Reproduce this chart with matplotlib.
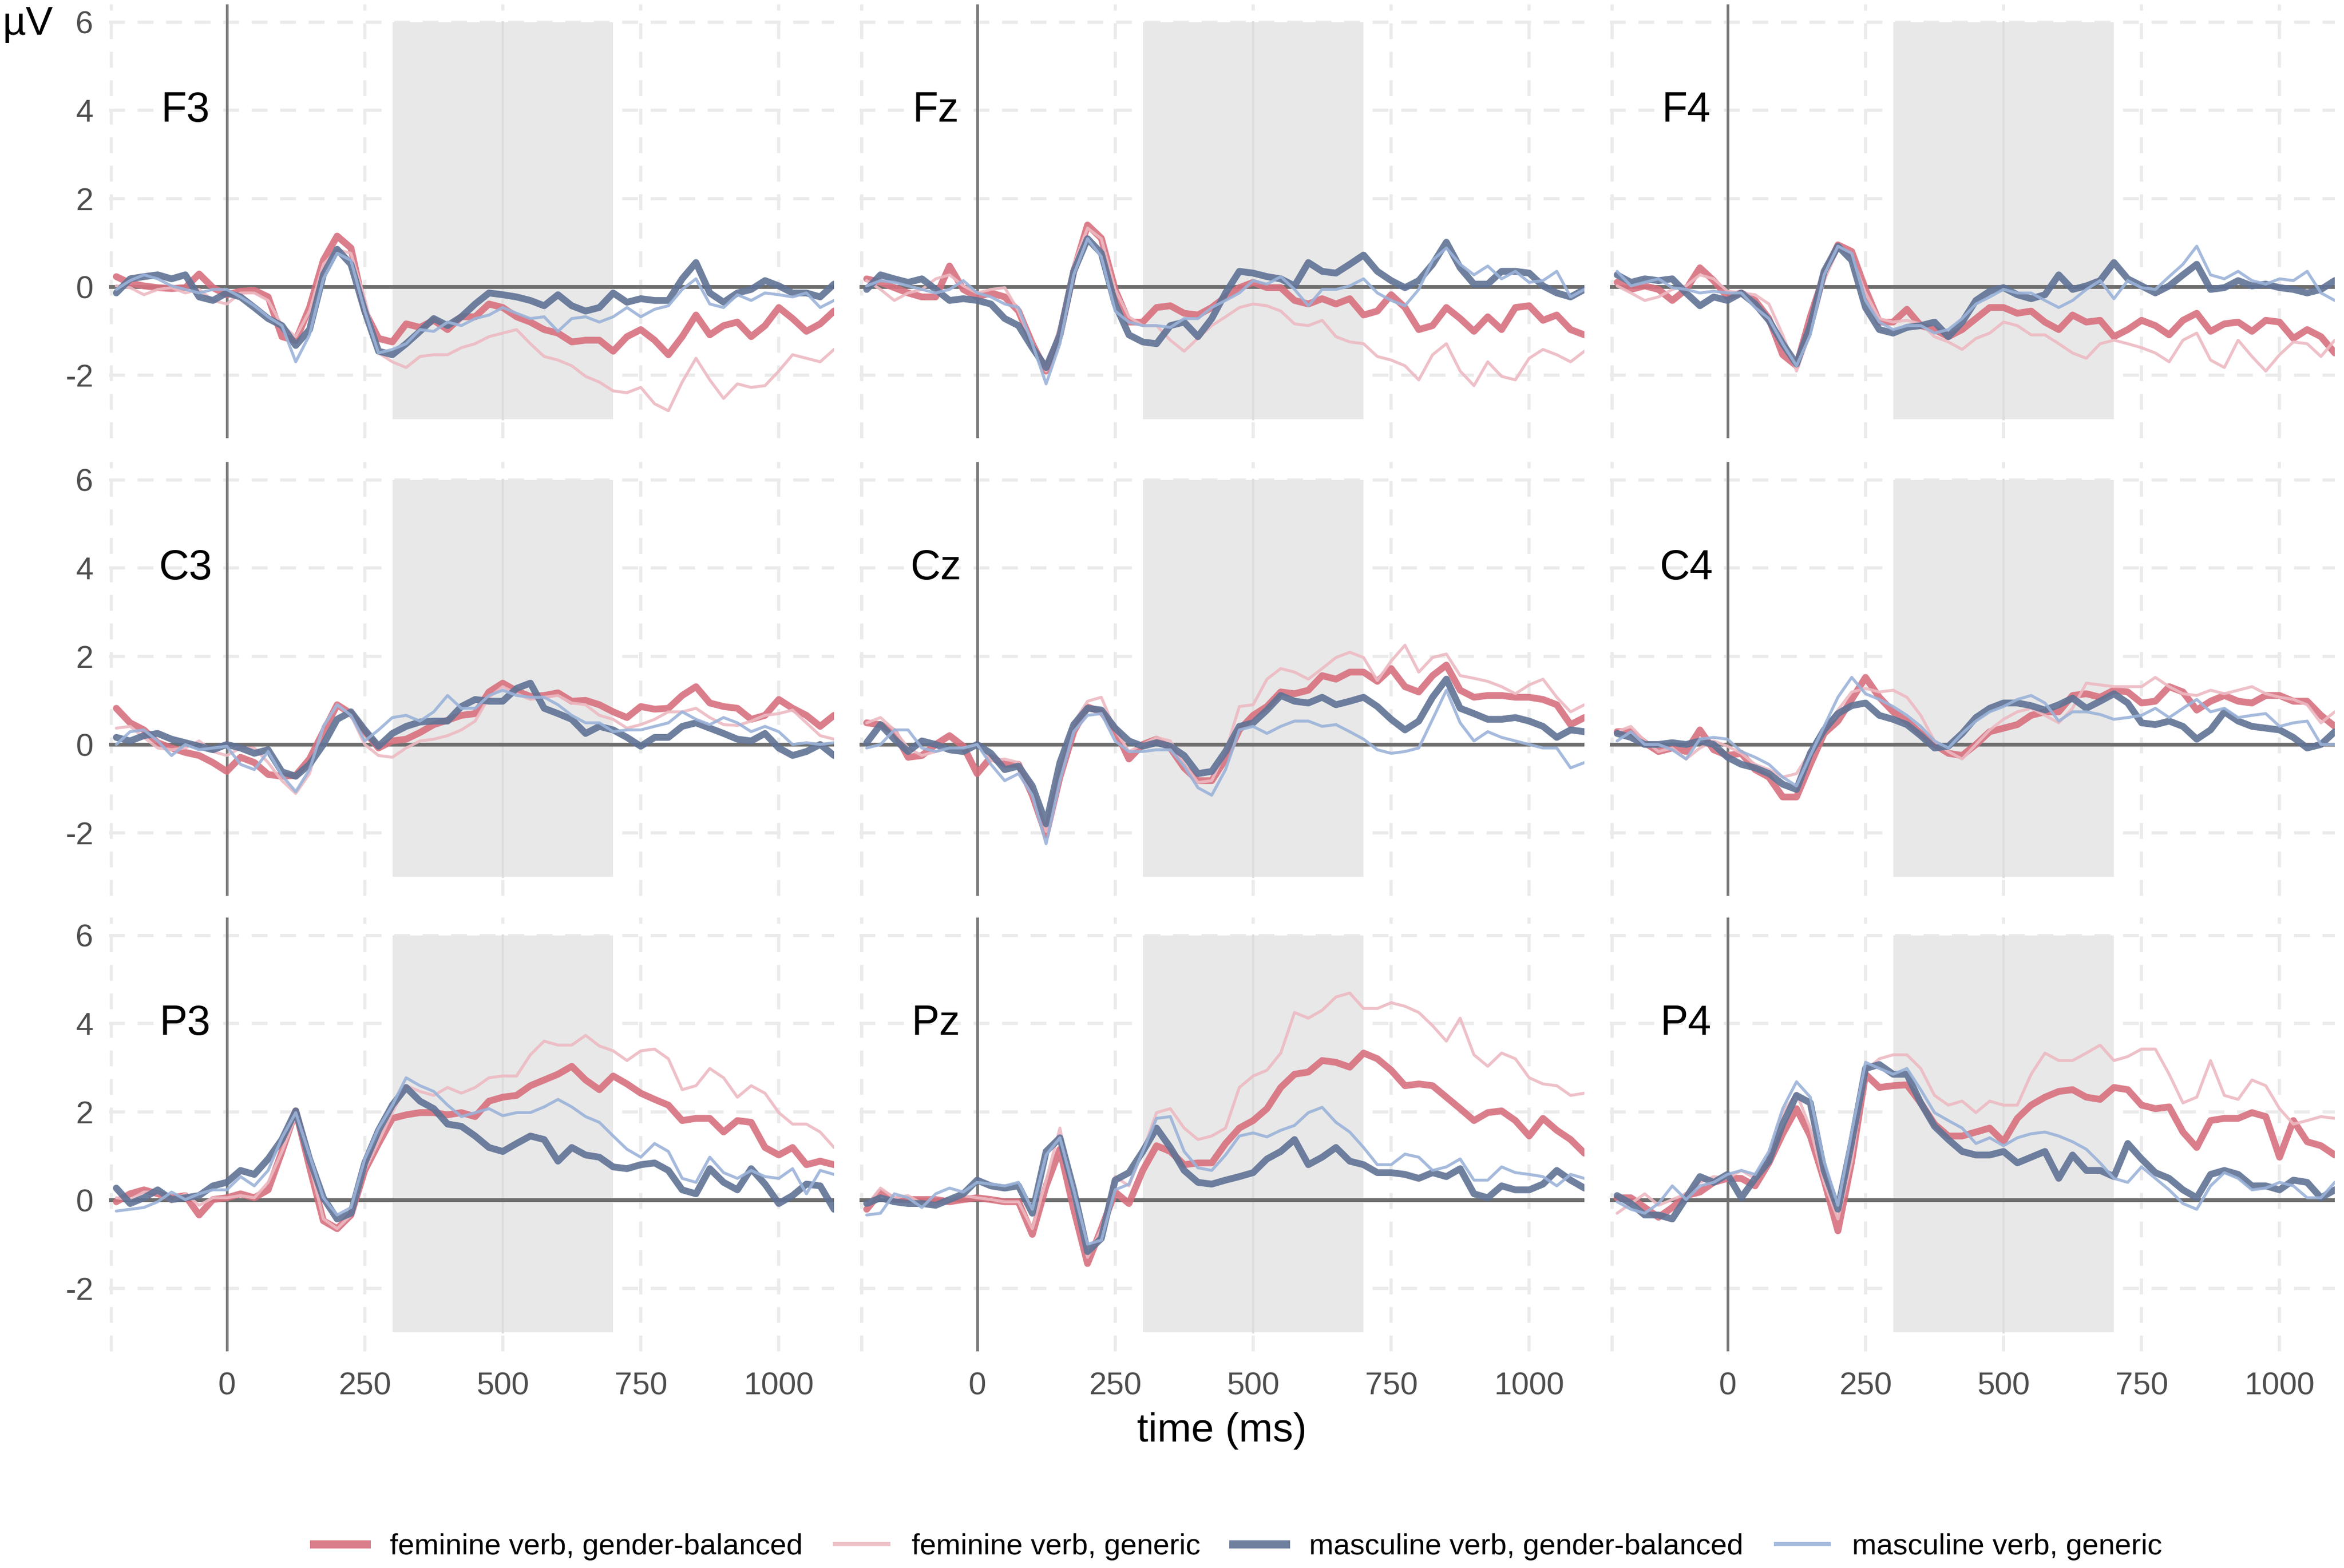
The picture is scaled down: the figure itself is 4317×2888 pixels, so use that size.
import numpy as np
import matplotlib
matplotlib.use('Agg')
import matplotlib.pyplot as plt
from matplotlib.lines import Line2D
from matplotlib.patches import Rectangle

plt.rcParams['font.family'] = ['Liberation Sans', 'DejaVu Sans']
plt.rcParams['axes.unicode_minus'] = False

# time axis (ms), one value every 25 ms
times = np.arange(-200, 1101, 25)

# ---- values (µV) ----
f3_fb = [0.23, 0.08, 0.02, -0.02, -0.04, -0.02, 0.29, -0.02, -0.18, -0.10, -0.08, -0.23, -1.13, -1.22, -0.47, 0.60, 1.15, 0.88, -0.55, -1.17, -1.25, -0.84, -0.92, -0.76, -0.97, -0.68, -0.68, -0.39, -0.47, -0.68, -0.80, -0.97, -1.05, -1.25, -1.21, -1.21, -1.46, -1.13, -0.97, -1.21, -1.54, -1.13, -0.64, -1.09, -0.88, -0.80, -1.13, -0.88, -0.47, -0.72, -1.01, -0.84, -0.55]
f3_fg = [0.02, -0.02, -0.18, -0.06, -0.02, -0.14, -0.06, -0.31, -0.39, -0.14, -0.14, -0.31, -0.88, -1.13, -0.55, 0.51, 0.84, 0.76, -0.27, -1.50, -1.70, -1.83, -1.58, -1.54, -1.54, -1.38, -1.29, -1.13, -1.05, -0.97, -1.29, -1.58, -1.66, -1.79, -2.03, -2.16, -2.36, -2.40, -2.28, -2.65, -2.81, -2.16, -1.62, -2.11, -2.53, -2.20, -2.28, -2.24, -1.91, -1.54, -1.62, -1.70, -1.42]
f3_mb = [-0.14, 0.18, 0.23, 0.27, 0.18, 0.27, -0.23, -0.31, -0.14, -0.23, -0.47, -0.72, -0.88, -1.33, -0.97, 0.27, 0.85, 0.51, -0.55, -1.46, -1.54, -1.29, -1.01, -0.72, -0.88, -0.68, -0.39, -0.14, -0.18, -0.23, -0.31, -0.43, -0.18, -0.43, -0.55, -0.47, -0.14, -0.35, -0.27, -0.31, -0.31, 0.18, 0.55, -0.14, -0.35, -0.14, -0.06, 0.14, 0.02, -0.14, -0.14, -0.23, 0.06]
f3_mg = [-0.06, 0.14, 0.27, 0.18, 0.02, -0.06, -0.14, -0.06, -0.06, -0.23, -0.43, -0.68, -0.88, -1.70, -1.09, 0.18, 0.76, 0.60, -0.55, -1.50, -1.42, -1.29, -0.97, -1.01, -0.80, -0.88, -0.72, -0.64, -0.47, -0.60, -0.72, -0.68, -1.01, -0.72, -0.68, -0.80, -0.68, -0.47, -0.68, -0.51, -0.43, -0.06, 0.18, -0.39, -0.47, -0.18, -0.31, -0.14, -0.18, -0.23, -0.14, -0.47, -0.31]

fz_fb = [0.18, 0.10, -0.02, -0.14, -0.23, -0.23, 0.47, -0.06, -0.23, -0.14, -0.23, -0.55, -1.29, -1.91, -1.09, 0.35, 1.40, 1.10, -0.06, -0.80, -0.80, -0.47, -0.43, -0.60, -0.64, -0.47, -0.23, -0.02, 0.10, -0.02, -0.02, -0.31, -0.39, -0.27, -0.39, -0.27, -0.64, -0.55, -0.18, -0.47, -0.97, -0.88, -0.47, -0.72, -1.01, -0.68, -0.97, -0.47, -0.43, -0.76, -0.64, -0.97, -1.09]
fz_fg = [0.14, -0.06, -0.31, -0.14, -0.06, 0.18, 0.27, 0.02, -0.14, -0.06, -0.02, -0.55, -1.29, -1.91, -0.88, 0.51, 1.33, 1.09, -0.06, -0.68, -0.88, -0.88, -1.21, -1.46, -1.17, -0.88, -0.68, -0.47, -0.39, -0.43, -0.55, -0.84, -0.88, -0.76, -1.13, -1.25, -1.29, -1.58, -1.66, -1.79, -2.11, -1.54, -1.29, -1.91, -2.24, -1.70, -2.03, -2.11, -1.62, -1.42, -1.54, -1.70, -1.46]
fz_mb = [-0.06, 0.27, 0.18, 0.10, 0.18, -0.06, -0.31, -0.27, -0.31, -0.39, -0.72, -0.88, -1.38, -1.83, -1.09, 0.35, 1.09, 0.76, -0.39, -1.09, -1.25, -1.29, -0.88, -0.80, -1.13, -0.72, -0.14, 0.35, 0.31, 0.23, 0.18, 0.02, 0.55, 0.35, 0.31, 0.51, 0.72, 0.35, 0.14, -0.02, 0.14, 0.51, 1.01, 0.43, 0.06, 0.06, 0.35, 0.35, 0.31, 0.02, -0.14, -0.23, -0.06]
fz_mg = [0.02, 0.14, 0.10, 0.02, -0.06, -0.14, -0.06, 0.14, -0.14, -0.23, -0.39, -0.47, -1.29, -2.20, -1.29, 0.27, 1.09, 0.68, -0.55, -0.80, -0.88, -0.88, -0.92, -0.72, -0.72, -0.47, -0.31, -0.14, 0.14, 0.06, 0.23, -0.06, -0.43, -0.06, -0.06, 0.02, 0.18, -0.14, -0.31, -0.43, -0.06, 0.60, 0.88, 0.51, 0.27, 0.47, 0.18, 0.35, 0.10, 0.14, 0.35, -0.23, -0.06]

f4_fb = [0.10, -0.06, 0.02, -0.06, -0.31, -0.06, 0.43, 0.14, -0.23, -0.14, -0.31, -0.72, -1.54, -1.79, -0.68, 0.27, 0.95, 0.80, -0.06, -0.80, -0.80, -0.51, -0.88, -0.97, -1.13, -0.97, -0.72, -0.47, -0.47, -0.60, -0.55, -0.80, -0.97, -0.64, -0.80, -0.76, -1.13, -0.97, -0.76, -0.88, -1.09, -0.76, -0.60, -1.01, -0.84, -0.80, -1.01, -0.76, -0.80, -1.17, -0.97, -1.13, -1.50]
f4_fg = [0.02, -0.14, -0.31, -0.23, -0.06, 0.02, 0.27, 0.18, -0.10, -0.14, -0.18, -0.39, -1.09, -1.91, -1.05, 0.14, 0.88, 0.68, -0.14, -0.72, -0.80, -0.76, -0.84, -1.13, -1.25, -1.42, -1.17, -1.05, -0.80, -0.88, -1.09, -1.09, -1.29, -1.50, -1.62, -1.29, -1.21, -1.29, -1.38, -1.50, -1.70, -1.21, -1.05, -1.66, -1.83, -1.21, -1.58, -1.91, -1.54, -1.25, -1.29, -1.58, -1.21]
f4_mb = [0.27, 0.10, 0.18, 0.14, 0.18, -0.14, -0.43, -0.23, -0.31, -0.14, -0.39, -0.76, -1.29, -1.75, -0.88, 0.35, 0.92, 0.60, -0.47, -0.97, -1.05, -0.92, -0.88, -0.80, -1.13, -0.80, -0.31, -0.10, -0.02, -0.18, -0.27, -0.18, 0.27, -0.06, 0.02, 0.14, 0.55, 0.18, 0.02, -0.14, 0.02, 0.27, 0.51, -0.06, -0.02, 0.14, 0.02, 0.06, -0.02, -0.06, -0.14, -0.06, 0.14]
f4_mg = [0.35, 0.02, 0.10, 0.18, -0.02, -0.06, -0.14, -0.10, -0.14, -0.14, -0.47, -0.72, -1.29, -1.79, -1.09, 0.27, 0.92, 0.76, -0.31, -0.80, -0.97, -0.88, -0.88, -1.05, -0.97, -0.72, -0.39, -0.23, -0.06, -0.14, -0.14, -0.31, -0.47, -0.31, -0.06, 0.14, -0.27, 0.14, -0.02, -0.06, 0.23, 0.51, 0.92, 0.27, 0.18, 0.35, 0.14, 0.06, 0.18, 0.14, 0.35, -0.14, -0.31]

c3_fb = [0.82, 0.49, 0.33, 0.04, -0.08, -0.18, -0.25, -0.41, -0.61, -0.29, -0.41, -0.68, -0.72, -0.70, -0.33, 0.29, 0.90, 0.70, 0.29, -0.08, 0.08, 0.12, 0.27, 0.45, 0.55, 0.66, 0.70, 1.19, 1.39, 1.21, 1.09, 1.11, 1.17, 0.98, 1.00, 0.90, 0.74, 0.61, 0.86, 0.80, 0.82, 1.11, 1.31, 0.94, 0.86, 0.82, 0.57, 0.66, 1.02, 0.82, 0.66, 0.41, 0.66]
c3_fg = [0.37, 0.41, 0.16, -0.08, -0.12, -0.08, 0.08, -0.16, -0.25, -0.08, -0.08, -0.41, -0.82, -1.11, -0.66, 0.41, 0.90, 0.66, 0.00, -0.25, -0.29, -0.08, 0.08, 0.12, 0.20, 0.33, 0.53, 1.07, 1.31, 1.15, 1.02, 1.07, 1.11, 0.94, 0.90, 0.66, 0.57, 0.37, 0.45, 0.57, 0.74, 0.74, 0.82, 0.61, 0.45, 0.43, 0.53, 0.66, 0.70, 0.78, 0.49, 0.20, 0.12]
c3_mb = [0.16, 0.08, 0.20, 0.25, 0.12, 0.04, -0.04, -0.12, 0.00, -0.08, -0.20, -0.12, -0.62, -0.72, -0.45, 0.00, 0.57, 0.74, 0.33, -0.04, 0.25, 0.41, 0.51, 0.53, 0.53, 0.86, 1.02, 0.98, 0.98, 1.27, 1.39, 0.82, 0.70, 0.57, 0.25, 0.41, 0.33, 0.16, -0.04, 0.16, 0.16, 0.41, 0.49, 0.37, 0.25, 0.12, 0.08, 0.25, -0.08, -0.25, -0.16, 0.00, -0.25]
c3_mg = [0.00, 0.29, 0.33, 0.08, -0.25, 0.00, -0.12, -0.08, -0.04, -0.45, -0.57, -0.16, -0.70, -1.07, -0.57, 0.41, 0.90, 0.66, 0.08, 0.33, 0.61, 0.66, 0.53, 0.74, 1.11, 0.82, 0.82, 1.11, 1.23, 1.11, 1.07, 1.07, 0.90, 0.66, 0.49, 0.49, 0.29, 0.33, 0.33, 0.41, 0.49, 0.74, 0.57, 0.45, 0.61, 0.49, 0.29, 0.41, 0.29, 0.00, 0.04, 0.00, 0.04]

cz_fb = [0.49, 0.45, 0.29, -0.29, -0.25, 0.00, 0.20, -0.04, -0.66, -0.29, -0.45, -0.45, -1.15, -2.05, -0.74, 0.29, 0.85, 0.74, 0.33, -0.33, 0.00, 0.12, -0.08, -0.53, -0.82, -0.82, -0.33, 0.33, 0.66, 0.86, 1.19, 1.15, 1.23, 1.56, 1.48, 1.64, 1.64, 1.43, 1.72, 1.31, 1.19, 1.56, 1.80, 1.23, 1.07, 1.11, 1.11, 1.07, 1.07, 1.02, 0.90, 0.45, 0.61]
cz_fg = [0.49, 0.61, 0.33, -0.08, -0.25, -0.16, -0.08, -0.08, 0.00, -0.37, -0.33, -0.41, -0.94, -1.97, -0.53, 0.49, 0.98, 1.07, 0.33, -0.16, 0.00, 0.16, 0.08, -0.45, -0.86, -0.82, -0.16, 0.86, 0.90, 1.48, 1.72, 1.64, 1.48, 1.72, 1.97, 2.09, 1.97, 1.45, 1.89, 2.25, 1.64, 1.97, 2.05, 1.56, 1.50, 1.43, 1.31, 1.15, 1.35, 1.48, 1.07, 0.74, 0.90]
cz_mb = [0.04, 0.45, 0.12, -0.16, 0.08, 0.00, -0.12, -0.16, 0.00, -0.20, -0.57, -0.49, -0.94, -1.80, -0.41, 0.45, 0.82, 0.78, 0.37, 0.08, -0.04, 0.04, -0.04, -0.25, -0.66, -0.61, -0.16, 0.41, 0.49, 0.78, 1.11, 0.98, 0.94, 1.07, 0.90, 0.98, 1.07, 0.86, 0.57, 0.33, 0.53, 1.07, 1.48, 0.82, 0.70, 0.57, 0.57, 0.61, 0.53, 0.41, 0.16, 0.33, 0.29]
cz_mg = [-0.08, 0.00, 0.33, 0.33, -0.08, -0.16, -0.08, -0.08, 0.00, -0.45, -0.82, -0.66, -1.15, -2.25, -0.82, 0.29, 0.66, 0.70, 0.08, -0.16, -0.16, -0.12, -0.12, -0.49, -0.98, -1.15, -0.57, 0.33, 0.41, 0.25, 0.41, 0.53, 0.53, 0.41, 0.45, 0.29, 0.12, -0.12, -0.20, -0.16, -0.08, 0.57, 1.23, 0.49, 0.08, 0.29, 0.16, 0.08, 0.00, -0.08, -0.08, -0.53, -0.41]

c4_fb = [0.29, 0.29, 0.04, -0.16, -0.08, -0.16, 0.33, -0.12, -0.25, -0.20, -0.57, -0.74, -1.19, -1.19, -0.45, 0.25, 0.53, 1.02, 1.52, 1.07, 0.74, 0.53, 0.25, 0.00, -0.20, -0.25, 0.00, 0.29, 0.37, 0.45, 0.66, 0.74, 0.74, 1.11, 1.15, 1.07, 1.23, 1.19, 0.94, 0.98, 1.31, 1.19, 0.78, 0.98, 1.11, 0.98, 0.94, 1.11, 1.11, 0.98, 0.98, 0.66, 0.41]
c4_fg = [0.29, 0.41, 0.08, -0.16, -0.08, -0.33, -0.08, 0.08, -0.04, -0.20, -0.45, -0.57, -0.74, -0.66, -0.16, 0.33, 0.78, 1.19, 1.27, 1.19, 1.23, 1.07, 0.66, 0.08, -0.16, -0.33, 0.00, 0.33, 0.57, 0.74, 0.82, 0.66, 0.49, 0.82, 1.39, 1.35, 1.31, 1.31, 1.31, 1.52, 1.31, 1.15, 1.11, 1.23, 1.15, 1.23, 1.31, 1.15, 1.07, 1.02, 0.90, 0.49, 0.74]
c4_mb = [0.25, 0.16, 0.00, 0.00, 0.04, 0.00, 0.08, 0.00, -0.29, -0.45, -0.53, -0.66, -0.90, -1.02, -0.20, 0.33, 0.70, 0.88, 0.94, 0.66, 0.57, 0.45, 0.20, -0.08, -0.04, 0.25, 0.61, 0.82, 0.94, 0.94, 0.88, 0.78, 0.90, 1.05, 0.82, 0.98, 1.15, 0.94, 0.49, 0.45, 0.53, 0.41, 0.12, 0.33, 0.74, 0.53, 0.41, 0.37, 0.33, 0.16, -0.08, 0.00, 0.29]
c4_mg = [0.08, 0.29, 0.00, 0.00, -0.12, -0.33, 0.12, 0.16, 0.12, -0.16, -0.29, -0.45, -0.74, -0.94, -0.25, 0.41, 1.07, 1.52, 1.15, 1.02, 0.86, 0.66, 0.41, 0.08, -0.08, 0.25, 0.53, 0.74, 0.86, 1.02, 1.11, 0.94, 0.53, 0.74, 0.74, 0.68, 0.57, 0.61, 0.66, 0.82, 0.61, 0.82, 1.02, 0.74, 0.82, 0.61, 0.66, 0.70, 0.41, 0.49, 0.53, 0.00, 0.00]

p3_fb = [-0.04, 0.14, 0.23, 0.14, 0.05, 0.10, -0.34, 0.01, 0.05, 0.14, 0.05, 0.23, 1.10, 2.02, 0.75, -0.47, -0.65, -0.34, 0.67, 1.28, 1.85, 1.93, 1.98, 1.98, 1.93, 1.98, 1.89, 2.24, 2.33, 2.37, 2.59, 2.72, 2.85, 3.03, 2.72, 2.50, 2.81, 2.63, 2.42, 2.28, 2.15, 1.80, 1.85, 1.85, 1.54, 1.80, 1.76, 1.19, 1.02, 1.19, 0.80, 0.88, 0.80]
p3_fg = [0.05, 0.01, 0.18, 0.18, -0.04, 0.14, -0.12, 0.05, 0.05, 0.10, 0.05, 0.40, 1.10, 1.89, 0.84, -0.43, -0.65, -0.34, 0.67, 1.32, 1.98, 2.59, 2.46, 2.37, 2.55, 2.42, 2.55, 2.77, 2.81, 2.81, 3.29, 3.60, 3.51, 3.51, 3.73, 3.49, 3.38, 3.16, 3.38, 3.42, 3.20, 2.50, 2.59, 2.98, 2.77, 2.33, 2.59, 2.42, 1.98, 1.72, 1.72, 1.54, 1.19]
p3_mb = [0.27, -0.08, 0.05, 0.23, 0.01, 0.05, 0.10, 0.32, 0.40, 0.67, 0.58, 0.93, 1.37, 2.02, 0.93, 0.05, -0.43, -0.30, 0.84, 1.58, 2.15, 2.55, 2.24, 2.07, 1.72, 1.67, 1.45, 1.19, 1.10, 1.28, 1.45, 1.37, 0.88, 1.19, 1.02, 0.97, 0.75, 0.71, 0.80, 0.84, 0.67, 0.23, 0.14, 0.71, 0.40, 0.23, 0.71, 0.36, -0.08, 0.10, 0.36, 0.32, -0.21]
p3_mg = [-0.25, -0.21, -0.17, -0.04, 0.18, 0.01, 0.14, 0.23, 0.23, 0.53, 0.32, 0.67, 1.41, 1.98, 1.02, 0.05, -0.34, -0.17, 0.93, 1.63, 2.15, 2.77, 2.59, 2.46, 2.15, 1.89, 1.98, 2.07, 1.91, 1.98, 1.98, 2.11, 2.28, 2.11, 1.89, 1.76, 1.45, 1.15, 0.97, 1.28, 1.10, 0.49, 0.40, 0.97, 0.62, 0.49, 0.67, 0.53, 0.49, 0.71, 0.14, 0.67, 0.58]

pz_fb = [-0.21, 0.18, 0.01, 0.01, 0.01, 0.01, -0.04, 0.01, 0.05, 0.01, -0.04, -0.04, -0.78, 0.32, 1.15, -0.21, -1.44, -0.65, 0.18, -0.08, 0.67, 1.23, 1.10, 0.80, 0.84, 0.84, 1.28, 1.63, 1.80, 2.07, 2.55, 2.85, 2.90, 3.16, 3.12, 3.01, 3.33, 3.20, 2.94, 2.59, 2.63, 2.59, 2.33, 2.07, 1.80, 1.98, 2.02, 1.80, 1.45, 1.85, 1.58, 1.37, 1.06]
pz_fg = [-0.12, 0.27, 0.05, 0.10, -0.08, -0.12, 0.01, 0.10, 0.05, 0.01, -0.04, -0.04, -0.65, 0.45, 1.63, 0.01, -1.30, -0.65, 0.53, 0.32, 1.10, 1.98, 2.07, 1.63, 1.37, 1.45, 1.63, 2.55, 2.81, 2.94, 3.33, 4.25, 4.12, 4.30, 4.60, 4.69, 4.34, 4.34, 4.47, 4.39, 4.25, 3.95, 3.60, 4.12, 3.29, 3.03, 3.33, 3.20, 2.77, 2.63, 2.59, 2.37, 2.42]
pz_mb = [-0.08, 0.05, -0.04, -0.08, -0.08, -0.12, 0.01, 0.14, 0.45, 0.32, 0.27, 0.32, -0.30, 1.10, 1.41, 0.23, -1.17, -0.87, 0.45, 0.62, 1.10, 1.63, 1.19, 0.67, 0.40, 0.36, 0.45, 0.53, 0.62, 0.93, 1.10, 1.37, 0.80, 0.97, 1.19, 0.88, 0.80, 0.62, 0.62, 0.58, 0.49, 0.62, 0.53, 0.71, 0.14, 0.05, 0.32, 0.23, 0.23, 0.36, 0.67, 0.45, 0.27]
pz_mg = [-0.34, -0.30, 0.14, 0.05, -0.17, 0.14, 0.27, 0.18, 0.40, 0.36, 0.32, 0.40, -0.21, 1.02, 1.41, 0.23, -1.00, -0.91, 0.23, 0.36, 1.10, 1.85, 1.89, 1.10, 0.73, 0.67, 1.02, 1.45, 1.52, 1.43, 1.58, 1.69, 1.98, 2.10, 1.76, 1.54, 1.19, 0.80, 0.80, 1.04, 0.97, 0.67, 0.75, 0.93, 0.45, 0.45, 0.75, 0.62, 0.58, 0.53, 0.32, 0.58, 0.49]

p4_fb = [0.05, 0.05, -0.17, -0.39, -0.17, 0.10, 0.18, 0.40, 0.49, 0.49, 0.32, 0.84, 1.50, 2.07, 1.45, 0.45, -0.70, 0.88, 2.85, 2.55, 2.59, 2.61, 2.20, 1.72, 1.45, 1.45, 1.54, 1.63, 1.32, 1.85, 2.15, 2.33, 2.46, 2.50, 2.33, 2.28, 2.55, 2.50, 2.15, 2.07, 2.11, 1.54, 1.19, 1.80, 1.85, 1.85, 1.98, 1.89, 0.97, 1.80, 1.32, 1.23, 1.02]
p4_fg = [-0.30, -0.08, 0.14, -0.12, 0.01, 0.14, 0.40, 0.53, 0.49, 0.67, 0.49, 1.02, 1.98, 2.42, 1.63, 0.40, -0.43, 0.88, 2.94, 3.20, 3.29, 3.29, 2.98, 2.37, 2.15, 2.24, 1.98, 2.24, 2.15, 2.15, 2.85, 3.33, 3.16, 3.16, 3.33, 3.51, 3.16, 3.25, 3.42, 3.42, 2.85, 2.20, 2.33, 3.16, 2.37, 2.28, 2.72, 2.59, 2.07, 1.72, 1.80, 1.89, 1.85]
p4_mb = [0.10, -0.08, -0.34, -0.34, -0.43, 0.05, 0.53, 0.40, 0.58, 0.05, 0.49, 0.88, 1.72, 2.37, 2.20, 0.67, -0.21, 1.32, 2.98, 3.07, 2.85, 2.85, 2.20, 1.67, 1.37, 1.10, 1.02, 1.02, 1.10, 0.84, 0.97, 1.10, 0.49, 1.02, 0.67, 0.67, 0.53, 1.28, 0.93, 0.62, 0.49, 0.23, 0.05, 0.58, 0.67, 0.58, 0.32, 0.32, 0.23, 0.45, 0.40, 0.05, 0.23]
p4_mg = [-0.04, -0.21, -0.30, -0.08, 0.32, 0.01, 0.32, 0.40, 0.58, 0.67, 0.58, 1.10, 2.07, 2.68, 2.33, 0.88, -0.12, 1.54, 3.12, 2.98, 2.85, 2.98, 2.50, 1.98, 1.80, 1.63, 1.28, 1.41, 1.23, 1.41, 1.50, 1.54, 1.45, 1.32, 1.15, 0.84, 0.49, 0.40, 0.75, 0.49, 0.23, -0.08, -0.21, 0.32, 0.62, 0.49, 0.23, 0.27, 0.40, 0.32, 0.05, 0.05, 0.40]

electrodes = ['F3', 'Fz', 'F4', 'C3', 'Cz', 'C4', 'P3', 'Pz', 'P4']
waves = {
    'F3': [f3_fb, f3_fg, f3_mb, f3_mg], 'Fz': [fz_fb, fz_fg, fz_mb, fz_mg],
    'F4': [f4_fb, f4_fg, f4_mb, f4_mg], 'C3': [c3_fb, c3_fg, c3_mb, c3_mg],
    'Cz': [cz_fb, cz_fg, cz_mb, cz_mg], 'C4': [c4_fb, c4_fg, c4_mb, c4_mg],
    'P3': [p3_fb, p3_fg, p3_mb, p3_mg], 'Pz': [pz_fb, pz_fg, pz_mb, pz_mg],
    'P4': [p4_fb, p4_fg, p4_mb, p4_mg],
}
conditions = ['feminine verb, gender-balanced', 'feminine verb, generic',
              'masculine verb, gender-balanced', 'masculine verb, generic']
colors = ['#D8707E', '#EDBAC2', '#5F7295', '#9BB3D9']
widths = [3.0, 1.3, 3.0, 1.3]

for name in electrodes:
    for w in waves[name]:
        assert len(w) == len(times), name

W, H = 4317, 2888
fig = plt.figure(figsize=(W / 300, H / 300), dpi=300)

col_left = [201, 1583, 2965]
row_top = [8, 851, 1690]
pw, ph = 1335, 799
grid_kw = dict(color='#EBEBEB', lw=1.4, ls=(0, (5, 4)), zorder=0)

for i, name in enumerate(electrodes):
    r, c = divmod(i, 3)
    ax = fig.add_axes([col_left[c] / W, 1 - (row_top[r] + ph) / H, pw / W, ph / H])
    ax.set_xlim(-213, 1100)
    ax.set_ylim(-3.43, 6.4)
    for s in ax.spines.values():
        s.set_visible(False)

    for gx in [-209, 250, 500, 750, 1000]:
        ax.axvline(gx, **grid_kw)
    for gy in [-2, 2, 4, 6]:
        ax.axhline(gy, **grid_kw)

    # analysis window
    ax.add_patch(Rectangle((300, -3), 400, 9, facecolor='#E8E8E8', edgecolor='none', zorder=1))
    ax.plot([500, 500], [-3, 6], color='#DDDDDD', lw=1.0, zorder=1.1)

    ax.axvline(0, color='#7A7A7A', lw=1.2, zorder=2)
    ax.axhline(0, color='#6E6E6E', lw=1.7, zorder=2)

    for k, vals in enumerate(waves[name]):
        ax.plot(times, vals, color=colors[k], lw=widths[k], alpha=0.9,
                zorder=3 + k, solid_joinstyle='round', solid_capstyle='round')

    ax.text(-75, 4, name, ha='center', va='center', fontsize=18.5, color='black')

    ax.set_xticks([0, 250, 500, 750, 1000])
    ax.set_yticks([-2, 0, 2, 4, 6])
    ax.tick_params(length=0, labelsize=14, labelcolor='#4D4D4D')
    ax.tick_params(axis='x', pad=9)
    ax.tick_params(axis='y', pad=7)
    if r < 2:
        ax.set_xticklabels([])
    if c > 0:
        ax.set_yticklabels([])

fig.text(5 / W, 1 - 10 / H, 'µV', ha='left', va='top', fontsize=18)
fig.text(2250 / W, 1 - 2635 / H, 'time (ms)', ha='center', va='center', fontsize=18)

handles = [Line2D([0], [0], color=colors[k], lw=widths[k] + 0.6, alpha=0.9) for k in range(4)]
fig.legend(handles, conditions, loc='center', bbox_to_anchor=(2280 / W, 1 - 2849 / H),
           ncol=4, frameon=False, fontsize=13, handlelength=1.8, handletextpad=0.8,
           columnspacing=1.1)

fig.savefig('out.png', dpi=300)
